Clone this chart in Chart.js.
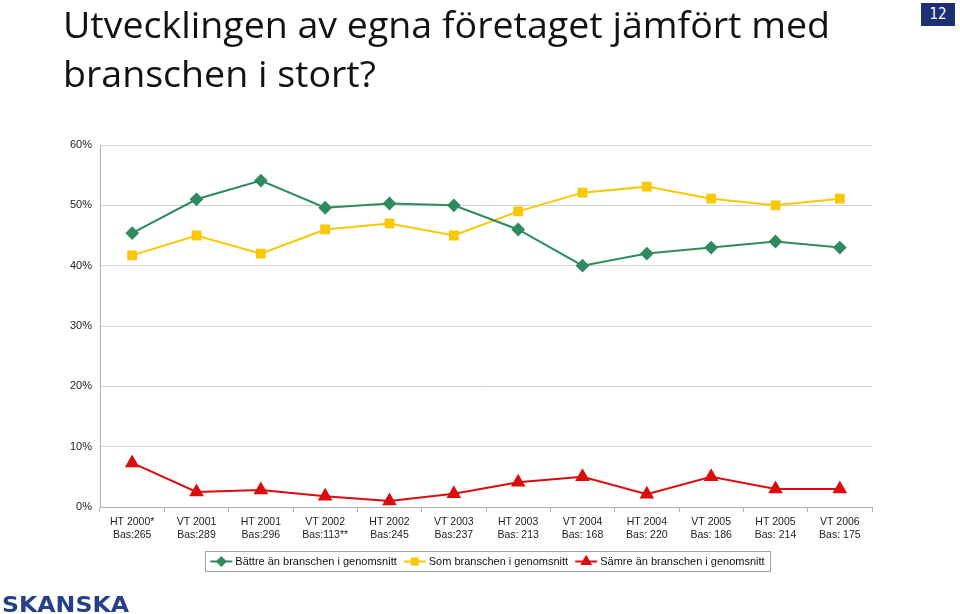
<!DOCTYPE html>
<html><head><meta charset="utf-8">
<script src="https://cdn.jsdelivr.net/npm/chart.js@4.4.1/dist/chart.umd.min.js"></script>
<style>
html,body{margin:0;padding:0;background:#fff;}
#wrap{position:relative;width:960px;height:614px;overflow:hidden;}
.tl{position:absolute;left:63px;font-family:"Open Sans","Liberation Sans",sans-serif;font-weight:400;font-size:36px;line-height:40px;color:#111;white-space:nowrap;transform-origin:0 0;}
#t1{top:5px;}
#t2{top:54px;}
#badge{position:absolute;left:921px;top:3px;width:34px;height:23px;background:#1b2f72;color:#fff;font-family:"DejaVu Sans Condensed","Liberation Sans",sans-serif;font-size:15px;line-height:23px;text-align:center;}
#logo{position:absolute;left:2px;top:593px;font-family:"DejaVu Sans",sans-serif;font-weight:bold;font-size:20.5px;color:#253f8a;line-height:24px;white-space:nowrap;transform-origin:0 0;}
canvas{position:absolute;left:0;top:0;}
</style></head>
<body><div id="wrap">
<canvas id="c" width="960" height="614"></canvas>
<div class="tl" id="t1">Utvecklingen av egna företaget jämfört med</div>
<div class="tl" id="t2">branschen i stort?</div>
<div id="badge">12</div>
<div id="logo">SKANSKA</div>
</div>
<script>
const categories = [
  ["HT 2000*","Bas:265"],["VT 2001","Bas:289"],["HT 2001","Bas:296"],["VT 2002","Bas:113**"],
  ["HT 2002","Bas:245"],["VT 2003","Bas:237"],["HT 2003","Bas: 213"],["VT 2004","Bas: 168"],
  ["HT 2004","Bas: 220"],["VT 2005","Bas: 186"],["HT 2005","Bas: 214"],["VT 2006","Bas: 175"]
];
const seriesNames = ["Bättre än branschen i genomsnitt","Som branschen i genomsnitt","Sämre än branschen i genomsnitt"];
const better = [45.4, 51, 54.1, 49.6, 50.3, 50, 46, 40, 42, 43, 44, 43];
const same   = [41.7, 45, 42, 46, 47, 45, 49, 52.1, 53.1, 51.1, 50, 51.1];
const worse  = [7.3, 2.5, 2.8, 1.8, 1, 2.2, 4.1, 5, 2.1, 5, 3, 3];
const yTicks = [0,10,20,30,40,50,60];

// fit title/logo widths to the reference
(function(){
  const t1 = document.getElementById('t1'), t2 = document.getElementById('t2');
  const s = 767 / t1.getBoundingClientRect().width;
  t1.style.transform = 'scaleX(' + s + ')';
  t2.style.transform = 'scaleX(' + s + ')';
  const lg = document.getElementById('logo');
  lg.style.transform = 'scaleX(' + (127 / lg.getBoundingClientRect().width) + ')';
})();

const legendPlugin = {
  id:'customLegend',
  afterDraw(chart){
    const ctx = chart.ctx;
    const ds = chart.data.datasets;
    ctx.save();
    ctx.font = '11px "Liberation Sans", Arial, sans-serif';
    const lineW = 22, gap1 = 3, gap2 = 7;
    let total = 0;
    const widths = ds.map(d => ctx.measureText(d.label).width);
    widths.forEach((w,i) => total += lineW + gap1 + w + (i < ds.length-1 ? gap2 : 0));
    const boxL = 205, boxR = 770, boxT = 551, boxB = 571;
    ctx.strokeStyle = '#a0a0a0'; ctx.lineWidth = 1;
    ctx.strokeRect(boxL+0.5, boxT+0.5, boxR-boxL, boxB-boxT);
    let x = boxL + (boxR - boxL - total)/2;
    const y = 561.5;
    ds.forEach((d,i)=>{
      ctx.strokeStyle = d.borderColor; ctx.lineWidth = 2;
      ctx.beginPath(); ctx.moveTo(x, y); ctx.lineTo(x+lineW, y); ctx.stroke();
      ctx.fillStyle = d.pointBackgroundColor;
      ctx.strokeStyle = d.pointBorderColor;
      Chart.helpers.drawPoint(ctx, {pointStyle:d.pointStyle, radius:d.pointRadius*0.75, borderWidth:1, rotation:0}, x+lineW/2, y);
      ctx.fillStyle = '#111'; ctx.textBaseline = 'middle'; ctx.textAlign='left';
      ctx.fillText(d.label, x+lineW+gap1, y);
      x += lineW + gap1 + widths[i] + gap2;
    });
    ctx.restore();
  }
};

const mk = (label, data, color, style, r) => ({
  label, data, borderColor: color, backgroundColor: color,
  pointBackgroundColor: color, pointBorderColor: color,
  pointStyle: style, pointRadius: r, pointHoverRadius: r,
  borderWidth: 2, tension: 0, fill:false
});

new Chart(document.getElementById('c'), {
  type:'line',
  data:{
    labels: categories,
    datasets:[
      mk(seriesNames[0], better, '#2e8b5f', 'rectRot', 5.5),
      mk(seriesNames[1], same, '#f8c800', 'rect', 5.5),
      mk(seriesNames[2], worse, '#dc0c0c', 'triangle', 6.5)
    ]
  },
  options:{
    responsive:false, animation:false,
    layout:{padding:{left:0, right:88, top:145, bottom:0}},
    plugins:{legend:{display:false}, tooltip:{enabled:false}},
    scales:{
      x:{
        offset:true,
        grid:{offset:true, drawOnChartArea:false, drawTicks:true, tickLength:5, color:'#b0b0b0'},
        border:{display:true, color:'#b0b0b0'},
        ticks:{color:'#222', font:{family:'"Liberation Sans", Arial, sans-serif', size:10.5}, padding:4, maxRotation:0, autoSkip:false},
        afterFit(s){ s.height = 614-507; }
      },
      y:{
        min:0, max:60,
        afterBuildTicks(s){ s.ticks = yTicks.map(v=>({value:v})); },
        grid:{color:'#d4d4d4', drawTicks:false},
        border:{display:true, color:'#b0b0b0'},
        ticks:{color:'#222', font:{family:'"Liberation Sans", Arial, sans-serif', size:11}, padding:8, callback:v=>v+'%'},
        afterFit(s){ s.width = 100; }
      }
    }
  },
  plugins:[legendPlugin]
});
</script>
</body></html>
